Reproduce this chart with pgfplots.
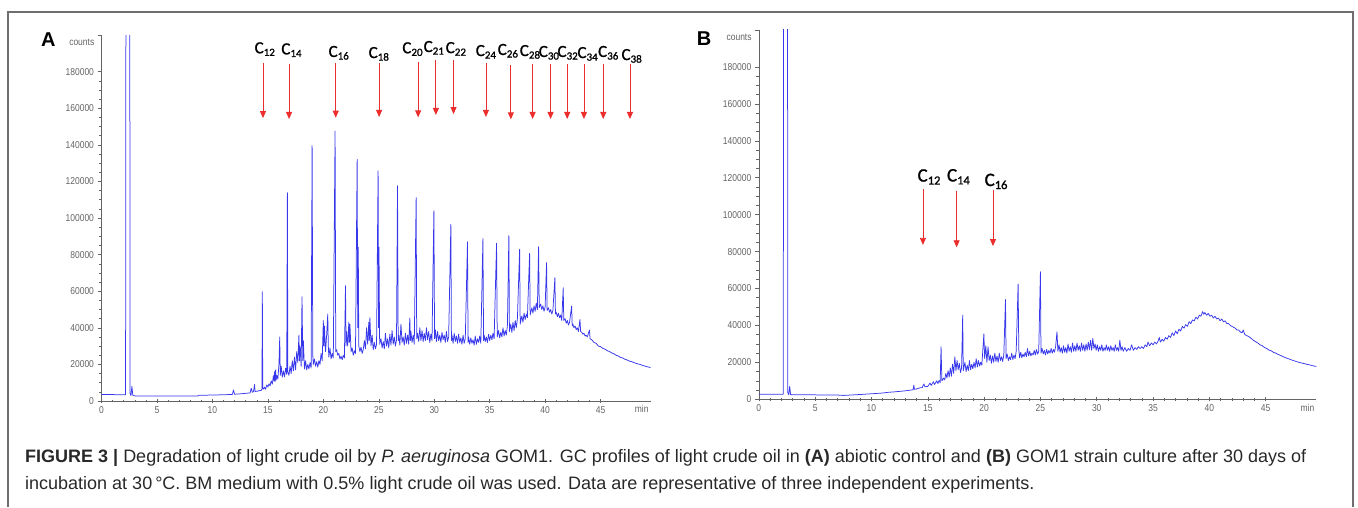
\documentclass[border=0pt]{standalone}
\usepackage{fontspec}
\setmainfont{Liberation Sans}
\newfontfamily\ticksf[FakeStretch=0.85]{Liberation Sans}
\newfontfamily\cfont[FakeBold=1.2]{Carlito}
\usepackage{pgfplots}
\pgfplotsset{compat=1.18}
\usetikzlibrary{arrows.meta}
\definecolor{gcblue}{RGB}{55,55,235}
\definecolor{arrred}{RGB}{235,45,45}
\definecolor{tickgray}{RGB}{100,100,100}
\definecolor{framegray}{RGB}{110,110,110}
\definecolor{captext}{RGB}{40,40,40}

% carbon-number label, C with lowered small digits
\newcommand\cn[1]{C\raisebox{-2.6pt}{\fontsize{11}{11}\selectfont #1}}
\newcommand\cnb[1]{C\raisebox{-3pt}{\fontsize{12.5}{12.5}\selectfont #1}}

\tikzset{
  trace/.style={gcblue, line width=0.75pt, line join=round},
  arr/.style={arrred, line width=0.8pt, -{Triangle[length=7pt,width=6pt]}},
}

\pgfplotsset{gcaxis/.style={
  scale only axis, anchor=south west,
  xmin=0, xmax=49.5, ymin=0, ymax=200000,
  axis lines*=left, axis line style={tickgray, line width=0.6pt},
  xtick={0,5,...,45}, minor x tick num=4,
  ytick={0,20000,...,180000}, minor y tick num=3,
  extra y ticks={200000}, extra y tick labels={},
  scaled y ticks=false,
  yticklabel style={/pgf/number format/fixed, /pgf/number format/1000 sep={}},
  /pgf/number format/assume math mode=true,
  tick label style={font=\ticksf\fontsize{10}{10}\selectfont, text=tickgray},
  tick style={tickgray, line width=0.5pt},
  major tick length=4pt, minor tick length=2.5pt,
  xtick align=center, ytick align=outside,
  clip mode=individual,
}}

\begin{document}
\begin{tikzpicture}

% ---------------- panel A: abiotic control ----------------
\begin{axis}[gcaxis, at={(101.5pt,106pt)}, width=549pt, height=366pt]
\addplot[trace] coordinates {
(0,3600) (1.0,3500) (2.0,3400) (2.17,3400) (2.2,210000) (2.55,210000) (2.58,4000)
(2.66,3000) (2.74,8000) (2.82,3200) (3.0,2800) (5.0,2700) (8.0,2700) (8.7,2800)
(8.8,3200) (9.5,3200) (11.0,3400) (11.8,3600) (11.9,6000) (12.0,3700) (12.5,3900) (13.0,4200)
(13.4,4400) (13.5,7000) (13.6,4800) (13.7,5000) (13.8,9000) (13.85,5200) (14.0,5300) (14.2,5600)
(14.4,5800) (14.47,6500) (14.5,59700) (14.54,7000) (14.6,6500) (14.7,7600) (14.8,6400) (14.9,8800)
(15.0,7600) (15.1,9400) (15.2,8300) (15.3,11000) (15.4,9200) (15.5,13800) (15.55,11000) (15.6,16000)
(15.65,10500) (15.7,17000) (15.75,11500) (15.8,14000) (15.9,12000) (16.0,20000) (16.07,35000) (16.12,14000)
(16.2,19000) (16.3,13000) (16.4,16500) (16.5,13200) (16.6,18000) (16.7,14500) (16.76,113800) (16.8,16000)
(16.9,14000) (17.0,19000) (17.1,15000) (17.2,22000) (17.3,16500) (17.4,24000) (17.5,17000) (17.6,27000)
(17.7,21000) (17.8,36000) (17.85,22000) (17.9,30000) (18.0,19000) (18.08,57000) (18.15,22000) (18.2,33000)
(18.3,17500) (18.4,22000) (18.5,17000) (18.6,20000) (18.7,17500) (18.8,21000) (18.9,18000) (18.99,139500)
(19.05,25000) (19.1,20000) (19.2,23000) (19.3,19000) (19.4,21500) (19.5,18500) (19.6,22000) (19.7,20000)
(19.8,26000) (19.9,22000) (20.0,44000) (20.05,30000) (20.1,41000) (20.2,27000) (20.3,36000) (20.4,47500)
(20.45,30000) (20.5,24000) (20.6,29000) (20.7,23000) (20.8,26000) (20.9,23500) (21.06,147500) (21.12,27000)
(21.2,28000) (21.3,25000) (21.4,26000) (21.5,23000) (21.6,24500) (21.7,22500) (21.8,25000) (21.9,23500)
(22.0,63000) (22.05,30000) (22.1,38000) (22.2,30000) (22.3,43000) (22.35,32000) (22.4,42000) (22.5,27000)
(22.6,29000) (22.7,25000) (22.8,27500) (22.9,26000) (23.05,132000) (23.1,40000) (23.15,84000) (23.2,30000)
(23.3,27000) (23.4,29500) (23.5,26000) (23.6,28000) (23.7,33000) (23.8,28500) (23.9,40000) (24.0,31000)
(24.1,43000) (24.15,33000) (24.2,45500) (24.3,30000) (24.4,36000) (24.5,28000) (24.6,32000) (24.7,28500)
(24.8,31000) (24.94,125800) (24.98,40000) (25.02,84000) (25.08,31000) (25.2,34000) (25.3,29000) (25.4,32500)
(25.5,28500) (25.6,37000) (25.7,30000) (25.8,34000) (25.9,29000) (26.0,36500) (26.1,30500) (26.2,38500)
(26.3,31000) (26.4,35000) (26.5,30000) (26.6,33500) (26.69,117600) (26.75,33000) (26.8,36000) (26.9,30500)
(27.0,42000) (27.1,32000) (27.2,35000) (27.3,30500) (27.4,37000) (27.5,31500) (27.6,36000) (27.7,31000)
(27.8,45300) (27.85,33000) (27.9,38000) (28.0,32000) (28.1,36000) (28.2,31000) (28.37,111100) (28.42,34000)
(28.5,37000) (28.6,32500) (28.7,40000) (28.8,33000) (28.9,38500) (29.0,32500) (29.1,37000) (29.2,33000)
(29.3,40000) (29.4,33500) (29.5,38000) (29.6,32000) (29.7,36500) (29.8,33000) (29.97,104000) (30.03,34000)
(30.1,39000) (30.2,32500) (30.3,38000) (30.4,33000) (30.5,36000) (30.6,32000) (30.7,37500) (30.8,33500)
(30.9,36000) (31.0,32000) (31.1,38000) (31.2,32500) (31.3,35000) (31.5,96500) (31.55,33000) (31.6,36000)
(31.7,31500) (31.8,37000) (31.9,32500) (32.0,35500) (32.1,31500) (32.2,36500) (32.3,32000) (32.4,34500)
(32.5,31000) (32.6,36000) (32.7,31500) (32.8,34000) (33.0,87000) (33.05,32000) (33.1,35000) (33.2,31000)
(33.3,34500) (33.4,31500) (33.5,33500) (33.6,30500) (33.7,35500) (33.8,31000) (33.9,34000) (34.0,32000)
(34.1,35500) (34.2,31500) (34.39,88700) (34.45,33000) (34.5,36000) (34.6,32500) (34.7,35000) (34.8,32000)
(34.9,36500) (35.0,33000) (35.1,36000) (35.2,33500) (35.3,37000) (35.4,34000) (35.62,86200) (35.68,35000)
(35.8,38500) (35.9,34500) (36.0,37500) (36.1,35000) (36.2,40000) (36.3,35500) (36.4,38500) (36.5,36000)
(36.6,41500) (36.73,90300) (36.78,38000) (36.9,42000) (37.0,37500) (37.1,43000) (37.2,38500) (37.3,44000)
(37.4,40000) (37.5,45000) (37.7,82900) (37.75,42000) (37.9,46500) (38.0,43000) (38.1,48000) (38.2,44500)
(38.3,47500) (38.4,45500) (38.6,80700) (38.65,47000) (38.8,51000) (38.9,48000) (39.0,52000) (39.1,49000)
(39.2,53500) (39.3,50000) (39.41,84300) (39.47,51000) (39.6,53000) (39.7,50000) (39.8,52000) (39.9,49000)
(40.0,51500) (40.13,75600) (40.18,49500) (40.3,51000) (40.4,48500) (40.5,50000) (40.6,47500) (40.7,49500)
(40.88,67400) (40.93,47500) (41.0,48500) (41.1,46000) (41.2,48000) (41.3,45500) (41.4,47000) (41.5,44000)
(41.63,61900) (41.68,44000) (41.8,45000) (41.9,42500) (42.0,44000) (42.1,41500) (42.2,43000) (42.39,51900)
(42.44,41000) (42.5,42000) (42.6,40000) (42.7,41000) (42.8,39000) (42.9,40000) (43.0,38000) (43.14,44600)
(43.2,38000) (43.3,37500) (43.4,36500) (43.5,37000) (43.6,35500) (43.7,36000) (43.8,35000) (44.0,38800)
(44.05,34000) (44.2,33500) (44.4,32000) (44.6,31500) (44.8,30000) (45.0,29700) (45.2,28800) (45.4,28300)
(45.6,27500) (45.8,27000) (46.0,26300) (46.2,25800) (46.4,25000) (46.6,24600) (46.8,23800) (47.0,23500)
(47.2,22800) (47.4,22400) (47.6,21800) (47.8,21500) (48.0,21000) (48.2,20600) (48.4,20200) (48.6,19900)
(48.8,19400) (49.0,19100) (49.2,18700) (49.5,18300)
};
\node[anchor=east, font=\ticksf\fontsize{10}{10}\selectfont, text=tickgray, inner sep=0pt]
  at (axis cs:0,196000) [xshift=-7pt] {counts};
\node[anchor=north, font=\ticksf\fontsize{10}{10}\selectfont, text=tickgray]
  at (axis cs:48.7,0) [yshift=-1pt] {min};
% carbon-number markers
\draw[arr] (axis cs:14.56,184700) -- (axis cs:14.56,154600);
\draw[arr] (axis cs:16.91,184100) -- (axis cs:16.91,154100);
\draw[arr] (axis cs:21.12,184700) -- (axis cs:21.12,154800);
\draw[arr] (axis cs:25.03,184700) -- (axis cs:25.03,155200);
\draw[arr] (axis cs:28.55,185200) -- (axis cs:28.55,155000);
\draw[arr] (axis cs:30.15,186300) -- (axis cs:30.15,156300);
\draw[arr] (axis cs:31.74,186300) -- (axis cs:31.74,156800);
\draw[arr] (axis cs:34.66,184700) -- (axis cs:34.66,155200);
\draw[arr] (axis cs:36.91,183500) -- (axis cs:36.91,153900);
\draw[arr] (axis cs:38.87,184100) -- (axis cs:38.87,154100);
\draw[arr] (axis cs:40.49,184100) -- (axis cs:40.49,154100);
\draw[arr] (axis cs:41.99,184100) -- (axis cs:41.99,154100);
\draw[arr] (axis cs:43.50,184100) -- (axis cs:43.50,154100);
\draw[arr] (axis cs:45.24,184100) -- (axis cs:45.24,154100);
\draw[arr] (axis cs:47.65,184100) -- (axis cs:47.65,154100);
\begin{scope}[every node/.style={anchor=base, inner sep=0pt, font=\cfont\fontsize{17}{17}\selectfont}]
\node at (axis cs:14.72,190000) {\cn{12}};
\node at (axis cs:17.13,189400) {\cn{14}};
\node at (axis cs:21.39,188000) {\cn{16}};
\node at (axis cs:25.00,187400) {\cn{18}};
\node at (axis cs:28.04,190000) {\cn{20}};
\node at (axis cs:29.96,190700) {\cn{21}};
\node at (axis cs:31.95,190100) {\cn{22}};
\node at (axis cs:34.66,188500) {\cn{24}};
\node at (axis cs:36.64,189100) {\cn{26}};
\node at (axis cs:38.63,188500) {\cn{28}};
\node at (axis cs:40.34,188000) {\cn{30}};
\node at (axis cs:42.03,188000) {\cn{32}};
\node at (axis cs:43.83,187400) {\cn{34}};
\node at (axis cs:45.69,188000) {\cn{36}};
\node at (axis cs:47.80,186300) {\cn{38}};
\end{scope}
\end{axis}

% ---------------- panel B: GOM1 culture ----------------
\begin{axis}[gcaxis, at={(758.8pt,107.7pt)}, width=557.6pt, height=369.3pt]
\addplot[trace] coordinates {
(0,2800) (2.0,2700) (2.17,2700) (2.2,215000) (2.55,215000) (2.58,3500)
(2.66,2400) (2.74,7000) (2.82,2600) (3.0,2400) (5.0,2400) (7.0,2300) (7.5,2100) (9.0,2600)
(10.0,3000) (11.0,3400) (11.5,3800) (12.0,4000) (12.5,4300) (13.0,4600) (13.5,5000) (13.7,5200)
(13.76,7700) (13.82,5400) (14.0,5600) (14.3,6200) (14.5,6300) (14.65,8300) (14.75,6800) (15.0,7000)
(15.2,8800) (15.3,7500) (15.5,9500) (15.6,8000) (15.8,10000) (15.9,8500) (16.0,10200) (16.1,9000)
(16.18,28500) (16.25,10000) (16.4,11500) (16.5,10500) (16.6,14000) (16.7,11500) (16.8,15500) (16.9,12000)
(17.0,17000) (17.1,12500) (17.2,19000) (17.3,14000) (17.4,23000) (17.5,15500) (17.6,21000) (17.7,16000)
(17.8,19500) (17.9,14500) (18.0,17000) (18.1,45600) (18.15,15500) (18.3,20000) (18.4,15000) (18.5,18500)
(18.6,15500) (18.7,21000) (18.8,16000) (18.9,19000) (19.0,16500) (19.1,20000) (19.2,17000) (19.3,22000)
(19.4,17500) (19.5,21000) (19.6,18000) (19.7,20000) (19.8,18500) (19.98,35400) (20.05,22000) (20.15,29000)
(20.25,20000) (20.35,28500) (20.45,21000) (20.55,24000) (20.65,19500) (20.75,23500) (20.85,20000) (20.95,25000)
(21.05,20500) (21.15,23500) (21.25,20000) (21.35,25000) (21.45,21000) (21.55,23000) (21.65,20500) (21.75,24000)
(21.9,54100) (21.95,22000) (22.05,24500) (22.15,21000) (22.25,23000) (22.35,21500) (22.45,25000) (22.55,21500)
(22.65,24000) (22.75,22000) (22.85,26000) (23.02,62400) (23.08,27000) (23.15,22500) (23.25,25500) (23.35,22500)
(23.45,24500) (23.55,23000) (23.65,25500) (23.75,23000) (23.85,27500) (23.95,23500) (24.05,26000) (24.15,23500)
(24.25,25000) (24.35,24000) (24.45,26500) (24.55,24000) (24.65,27000) (24.75,24500) (24.85,26000) (25.0,69100)
(25.05,25000) (25.15,27500) (25.25,24500) (25.35,26500) (25.45,24000) (25.55,27000) (25.65,24500) (25.75,26500)
(25.85,25000) (25.95,27500) (26.05,25000) (26.15,27000) (26.25,25500) (26.35,28500) (26.47,36600) (26.55,26000)
(26.65,29500) (26.75,25500) (26.85,28000) (26.95,25000) (27.05,29000) (27.15,25500) (27.25,28000) (27.35,25000)
(27.45,30000) (27.55,26000) (27.65,28500) (27.75,25500) (27.85,30500) (27.95,26000) (28.05,29000) (28.15,26000)
(28.25,30500) (28.35,26500) (28.45,29000) (28.55,26000) (28.65,30500) (28.75,26500) (28.85,29500) (28.95,26000)
(29.05,30000) (29.15,26500) (29.25,31000) (29.35,27000) (29.45,32000) (29.55,26500) (29.65,33000) (29.75,27500)
(29.85,30000) (29.95,26500) (30.05,29500) (30.15,26000) (30.25,28500) (30.35,26500) (30.45,29500) (30.55,26000)
(30.65,28000) (30.75,26500) (30.85,29500) (30.95,26500) (31.05,28500) (31.15,26000) (31.25,29000) (31.35,26500)
(31.45,28000) (31.55,26000) (31.65,29500) (31.75,26500) (31.85,28000) (31.95,26000) (32.05,32000) (32.15,26500)
(32.25,28500) (32.35,26000) (32.5,28000) (32.65,26000) (32.8,27500) (32.95,26500) (33.1,29500) (33.25,26500)
(33.4,28000) (33.55,27000) (33.7,28500) (33.85,27500) (34.0,28500) (34.15,27500) (34.3,29500) (34.45,28500)
(34.55,31000) (34.7,29000) (34.85,30500) (35.0,29500) (35.15,31000) (35.3,30000) (35.45,31500) (35.55,33500)
(35.65,31000) (35.8,32500) (35.95,31500) (36.1,33500) (36.25,32500) (36.4,34500) (36.55,33500) (36.7,36000)
(36.85,34500) (37.0,37000) (37.15,35500) (37.3,38000) (37.45,37000) (37.6,39500) (37.75,38500) (37.9,40500)
(38.05,39500) (38.2,42000) (38.35,41000) (38.5,43000) (38.65,42500) (38.8,44500) (38.95,43500) (39.1,45500)
(39.25,45000) (39.4,47500) (39.5,46000) (39.6,47000) (39.75,45500) (39.9,46500) (40.05,45000) (40.2,45500)
(40.35,44000) (40.5,45000) (40.65,43500) (40.8,44000) (40.95,42500) (41.1,43500) (41.25,42000) (41.4,42500)
(41.55,41000) (41.7,41000) (41.85,40000) (42.0,39500) (42.15,39000) (42.3,38500) (42.45,37500) (42.6,37500)
(42.75,36500) (42.9,36000) (43.0,37500) (43.15,35000) (43.3,34500) (43.5,34000) (43.7,33000) (43.9,32000)
(44.1,31200) (44.3,30500) (44.5,29500) (44.7,29000) (44.9,28000) (45.1,27500) (45.3,26600) (45.5,26200)
(45.7,25400) (45.9,25000) (46.1,24300) (46.3,23800) (46.5,23200) (46.7,22700) (46.9,22200) (47.1,21800)
(47.3,21300) (47.5,20900) (47.7,20500) (47.9,20100) (48.1,19800) (48.3,19500) (48.5,19200) (48.7,18900)
(48.9,18600) (49.1,18300) (49.3,18000) (49.5,17800)
};
\node[anchor=east, font=\ticksf\fontsize{10}{10}\selectfont, text=tickgray, inner sep=0pt]
  at (axis cs:0,196000) [xshift=-7pt] {counts};
\node[anchor=north, font=\ticksf\fontsize{10}{10}\selectfont, text=tickgray]
  at (axis cs:48.7,0) [yshift=-1pt] {min};
\draw[arr] (axis cs:14.57,113700) -- (axis cs:14.57,83600);
\draw[arr] (axis cs:17.56,113000) -- (axis cs:17.56,82300);
\draw[arr] (axis cs:20.79,113400) -- (axis cs:20.79,83000);
\begin{scope}[every node/.style={anchor=base, inner sep=0pt, font=\cfont\fontsize{19}{19}\selectfont}]
\node at (axis cs:15.11,117900) {\cnb{12}};
\node at (axis cs:17.72,118000) {\cnb{14}};
\node at (axis cs:21.06,115500) {\cnb{16}};
\end{scope}
\end{axis}

% panel letters, frame and caption
\node[font=\bfseries\fontsize{20}{20}\selectfont] at (48.3pt,467.8pt) {A};
\node[font=\bfseries\fontsize{20}{20}\selectfont] at (704pt,468pt) {B};
\draw[framegray, line width=1.5pt] (8pt,0pt) -- (8pt,495pt) -- (1353pt,495pt) -- (1353pt,0pt);
\node[anchor=base west, inner sep=0pt, text=captext, font=\fontsize{18}{20}\selectfont] at (25pt,45pt)
  {\textbf{FIGURE 3 |} Degradation of light crude oil by \textit{P. aeruginosa} GOM1. GC profiles of light crude oil in \textbf{(A)} abiotic control and \textbf{(B)} GOM1 strain culture after 30 days of};
\node[anchor=base west, inner sep=0pt, text=captext, font=\fontsize{18}{20}\selectfont] at (25pt,18pt)
  {incubation at 30\,°C. BM medium with 0.5\% light crude oil was used. Data are representative of three independent experiments.};

\pgfresetboundingbox
\path[use as bounding box] (0pt,0pt) rectangle (1358pt,507pt);
\end{tikzpicture}
\end{document}
